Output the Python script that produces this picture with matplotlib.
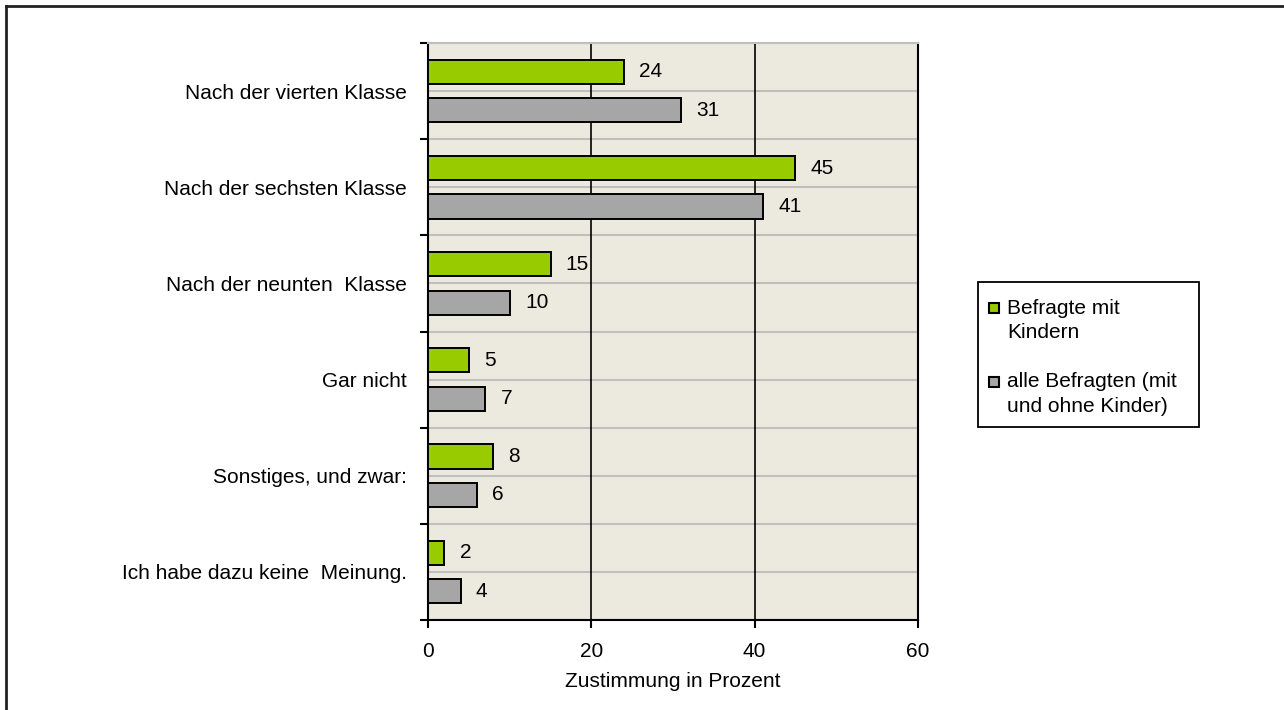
import matplotlib
matplotlib.use("Agg")
import matplotlib.pyplot as plt
from matplotlib.patches import Rectangle
from matplotlib.lines import Line2D
import numpy as np

plt.rcParams['font.family'] = ['Liberation Sans', 'DejaVu Sans']

# Daten
kategorien = ["Nach der vierten Klasse", "Nach der sechsten Klasse",
              "Nach der neunten  Klasse", "Gar nicht",
              "Sonstiges, und zwar:", "Ich habe dazu keine  Meinung."]
mit_kindern = [24, 45, 15, 5, 8, 2]
alle_befragten = [31, 41, 10, 7, 6, 4]
serien_namen = ["Befragte mit\nKindern", "alle Befragten (mit\nund ohne Kinder)"]
x_ticks = [0, 20, 40, 60]

gruen = "#99CC00"
grau = "#A6A6A6"
hintergrund = "#ECE9DF"
gitter = "#BFBFBF"
fs = 15

W, H = 1284, 710
fig = plt.figure(figsize=(W / 100, H / 100), dpi=100)
ax = fig.add_axes([428 / W, 1 - 620 / H, (918 - 428) / W, (620 - 43) / H])
ax.set_facecolor(hintergrund)

y = np.arange(len(kategorien))
h = 0.25
b1 = ax.barh(y - 0.2, mit_kindern, height=h, color=gruen, edgecolor="black", linewidth=1.4, zorder=3)
b2 = ax.barh(y + 0.2, alle_befragten, height=h, color=grau, edgecolor="black", linewidth=1.4, zorder=3)

for bars, vals in ((b1, mit_kindern), (b2, alle_befragten)):
    for r, v in zip(bars, vals):
        ax.annotate(str(v), (r.get_width(), r.get_y() + r.get_height() / 2),
                    xytext=(11, 0), textcoords="offset points",
                    ha="left", va="center", fontsize=fs)

ax.set_xlim(0, 60)
ax.set_ylim(len(kategorien) - 0.5, -0.5)

# gitterlinien
for yy in np.arange(-0.5, len(kategorien), 0.5):
    ax.axhline(yy, color=gitter, linewidth=1.5, zorder=1)
for xx in x_ticks[1:-1]:
    ax.axvline(xx, color="black", linewidth=1.2, zorder=2)

ax.set_xticks(x_ticks)
ax.set_xticklabels([str(t) for t in x_ticks], fontsize=fs)
ax.tick_params(axis="x", direction="out", length=6, width=1.5, pad=10)
ax.set_xlabel("Zustimmung in Prozent", fontsize=fs, labelpad=8)

ax.set_yticks(y)
ax.set_yticklabels(kategorien, fontsize=fs)
ax.set_yticks(np.arange(-0.5, len(kategorien), 1.0), minor=True)
ax.tick_params(axis="y", which="major", length=0, pad=15)
ax.tick_params(axis="y", which="minor", direction="out", length=6, width=1.5)

for s in ["left", "bottom", "right"]:
    ax.spines[s].set_linewidth(1.5)
    ax.spines[s].set_color("black")
ax.spines["top"].set_color(gitter)
ax.spines["top"].set_linewidth(1.5)

# Legende (Kästchen an der ersten Zeile ausgerichtet)
def fx(px):
    return px / W

def fy(py):
    return 1 - py / H

fig.add_artist(Rectangle((fx(978), fy(427)), fx(1199) - fx(978), fy(282) - fy(427),
                         transform=fig.transFigure, facecolor="white", edgecolor="black", linewidth=1.3))
for i, (name, col) in enumerate(zip(serien_namen, [gruen, grau])):
    top = 308 + i * 74
    fig.add_artist(Rectangle((fx(989), fy(top + 5)), fx(10), 10 / H,
                             transform=fig.transFigure, facecolor=col, edgecolor="black", linewidth=1.5))
    for j, zeile in enumerate(name.split("\n")):
        fig.text(fx(1007), fy(top + j * 24), zeile, ha="left", va="center", fontsize=fs)

# rahmen oben und links
fig.add_artist(Line2D([fx(6), 1], [fy(6), fy(6)], transform=fig.transFigure, color="#222222", linewidth=2))
fig.add_artist(Line2D([fx(6), fx(6)], [0, fy(6)], transform=fig.transFigure, color="#222222", linewidth=2))

fig.savefig("out.png", dpi=100, facecolor="white")
